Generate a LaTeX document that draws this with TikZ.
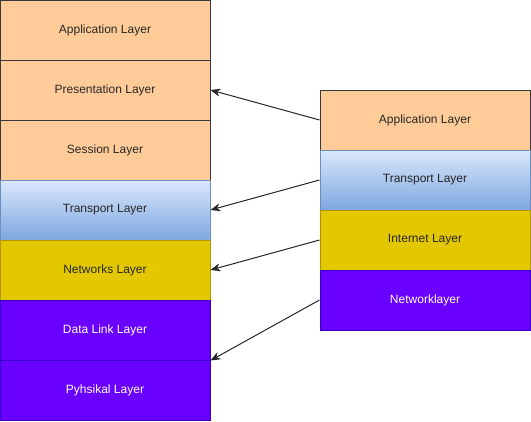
\documentclass[tikz,border=0pt]{standalone}
\usepackage{fontspec}
\setmainfont{Liberation Sans}
\usetikzlibrary{arrows.meta}
\definecolor{orfill}{HTML}{FFCC99}
\definecolor{ordraw}{HTML}{36393D}
\definecolor{blfillA}{HTML}{DAE8FC}
\definecolor{blfillB}{HTML}{7EA6E0}
\definecolor{bldraw}{HTML}{6C8EBF}
\definecolor{yefill}{HTML}{E3C800}
\definecolor{yedraw}{HTML}{B09500}
\definecolor{pufill}{HTML}{6A00FF}
\definecolor{pudraw}{HTML}{3700CC}
\tikzset{
  layer/.style={rectangle, minimum width=157.5pt, minimum height=45pt, inner sep=0pt, font=\fontsize{9}{11}\selectfont, line width=0.75pt},
  orbox/.style={layer, fill=orfill, draw=ordraw, text=black!85},
  blbox/.style={layer, top color=blfillA, bottom color=blfillB, draw=bldraw, text=black!85},
  yebox/.style={layer, fill=yefill, draw=yedraw, text=black!85},
  pubox/.style={layer, fill=pufill, draw=pudraw, text=white},
  conn/.style={-{Stealth[length=7.5pt,width=6pt]}, line width=0.75pt, draw=black!85}
}
\begin{document}
\begin{tikzpicture}[x=0.75pt,y=-0.75pt]
\useasboundingbox (0,0) rectangle (531,421);
\node[orbox] (la) at (105,30) {Application Layer};
\node[orbox] (lp) at (105,90) {Presentation Layer};
\node[orbox] (ls) at (105,150) {Session Layer};
\node[blbox] (lt) at (105,210) {Transport Layer};
\node[yebox] (ln) at (105,270) {Networks Layer};
\node[pubox] (ld) at (105,330) {Data Link Layer};
\node[pubox] (lh) at (105,390) {Pyhsikal Layer};
\node[orbox] (ra) at (425,120) {Application Layer};
\node[blbox] (rt) at (425,180) {Transport Layer};
\node[yebox] (ri) at (425,240) {Internet Layer};
\node[pubox] (rn) at (425,300) {Networklayer};
\draw[conn] (ra.west) -- (lp.east);
\draw[conn] (rt.west) -- (lt.east);
\draw[conn] (ri.west) -- (ln.east);
\draw[conn] (rn.west) -- (ld.south east);
\end{tikzpicture}
\end{document}
